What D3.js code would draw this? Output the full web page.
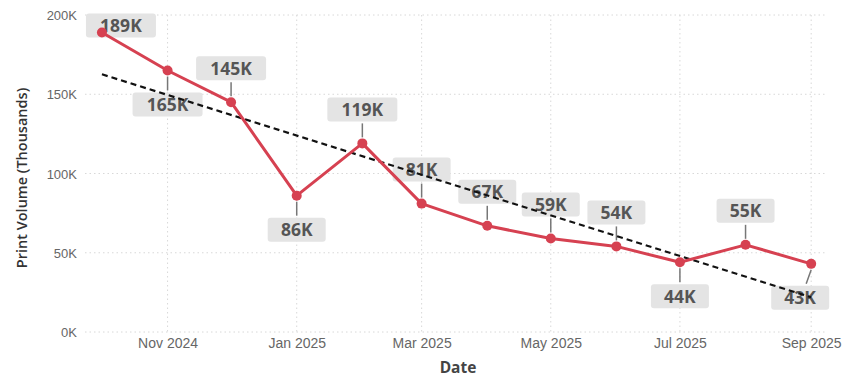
<!DOCTYPE html>
<html><head><meta charset="utf-8">
<script src="https://cdn.jsdelivr.net/npm/d3@7"></script>
<style>
html,body{margin:0;padding:0;background:#fff;}
svg{display:block;font-family:"Open Sans","Noto Sans",sans-serif;}
</style></head>
<body><svg id="chart" width="858" height="377"></svg>
<script>
const months = ["2024-10-01","2024-11-01","2024-12-01","2025-01-01","2025-02-01","2025-03-01",
                "2025-04-01","2025-05-01","2025-06-01","2025-07-01","2025-08-01","2025-09-01"];
const printVolume = [189, 165, 145, 86, 119, 81, 67, 59, 54, 44, 55, 43]; // thousands
const yTicks = [0, 50, 100, 150, 200];
const xDomain = ["2024-09-23", "2025-09-08"];

const parse = d3.timeParse("%Y-%m-%d");
const data = months.map((m, i) => ({ date: parse(m), v: printVolume[i], i }));

const svg = d3.select("#chart");
const x = d3.scaleTime().domain(xDomain.map(parse)).range([85, 826]);
const y = d3.scaleLinear().domain([0, 200]).range([332, 15]);

// grid
const grid = svg.append("g");
grid.selectAll("line.h").data(yTicks).enter().append("line")
  .attr("x1", 85).attr("x2", 826).attr("y1", d => y(d)).attr("y2", d => y(d))
  .attr("stroke", "#d8d8d8").attr("stroke-width", 1).attr("stroke-dasharray", "1.5,3");
const xTickVals = x.ticks(d3.timeMonth.every(2));
grid.selectAll("line.v").data(xTickVals).enter().append("line")
  .attr("x1", d => x(d)).attr("x2", d => x(d)).attr("y1", y(200)).attr("y2", y(0))
  .attr("stroke", "#d8d8d8").attr("stroke-width", 1).attr("stroke-dasharray", "1.5,3");

// y axis
const yAxis = d3.axisLeft(y).tickValues(yTicks).tickFormat(d => d + "K").tickSize(0).tickPadding(0);
const gy = svg.append("g").attr("transform", "translate(77,0)").call(yAxis);
gy.select(".domain").remove();
gy.selectAll("text").attr("fill", "#666").attr("font-size", 13).attr("dy", "0.36em");

// x axis
const xAxis = d3.axisBottom(x).tickValues(xTickVals).tickFormat(d3.timeFormat("%b %Y")).tickSize(0).tickPadding(0);
const gx = svg.append("g").attr("transform", "translate(0,338)").call(xAxis);
gx.select(".domain").remove();
gx.selectAll("text").attr("fill", "#666").attr("font-size", 14);

// axis titles
svg.append("text").attr("x", 458).attr("y", 373).attr("text-anchor", "middle")
  .attr("font-size", 15.5).attr("font-weight", "bold").attr("fill", "#444").text("Date");
svg.append("text").attr("transform", "translate(27,178) rotate(-90)").attr("text-anchor", "middle")
  .attr("font-size", 14.5).attr("font-weight", 600).attr("fill", "#333").text("Print Volume (Thousands)");

// labels
const side = [0, 1, -1, 1, -1, -1, -1, -1, -1, 1, -1, 1]; // -1 above, 1 below, 0 beside
const labG = svg.append("g");
data.forEach((d, k) => {
  const px = x(d.date), py = y(d.v);
  let cx = px, cy = py + side[k] * 34;
  if (side[k] === 0) { cx = px + 19; cy = py - 7; }
  if (k === 11) cx = px - 11;
  const w = d.v >= 100 ? 70 : 58, h = 24;
  if (side[k] !== 0) {
    const y1 = py + side[k] * 6, y2 = cy - side[k] * 14;
    labG.append("line").attr("x1", px).attr("x2", k === 11 ? px - 5 : px)
      .attr("y1", y1).attr("y2", y2).attr("stroke", "#777").attr("stroke-width", 1.5);
  }
  labG.append("rect").attr("x", cx - w / 2).attr("y", cy - h / 2).attr("width", w).attr("height", h)
    .attr("rx", 3).attr("fill", "#e4e4e4");
  labG.append("text").attr("x", cx).attr("y", cy + 6.5).attr("text-anchor", "middle")
    .attr("font-size", 17.5).attr("font-weight", "bold").attr("fill", "#555").text(d.v + "K");
});

// trend line (least squares)
const n = data.length;
const mx = d3.mean(data, d => d.i), my = d3.mean(data, d => d.v);
const slope = d3.sum(data, d => (d.i - mx) * (d.v - my)) / d3.sum(data, d => (d.i - mx) ** 2);
const icpt = my - slope * mx;
const trend = [data[0], data[n - 1]].map(d => ({ date: d.date, v: icpt + slope * d.i }));
const line = d3.line().x(d => x(d.date)).y(d => y(d.v));
svg.append("path").datum(trend).attr("d", line).attr("fill", "none")
  .attr("stroke", "#111").attr("stroke-width", 2.2).attr("stroke-dasharray", "6,4");

// main series
svg.append("path").datum(data).attr("d", line).attr("fill", "none")
  .attr("stroke", "#d64151").attr("stroke-width", 3).attr("stroke-linejoin", "round");
svg.append("g").selectAll("circle").data(data).enter().append("circle")
  .attr("cx", d => x(d.date)).attr("cy", d => y(d.v)).attr("r", 5).attr("fill", "#d64151");
</script></body></html>
